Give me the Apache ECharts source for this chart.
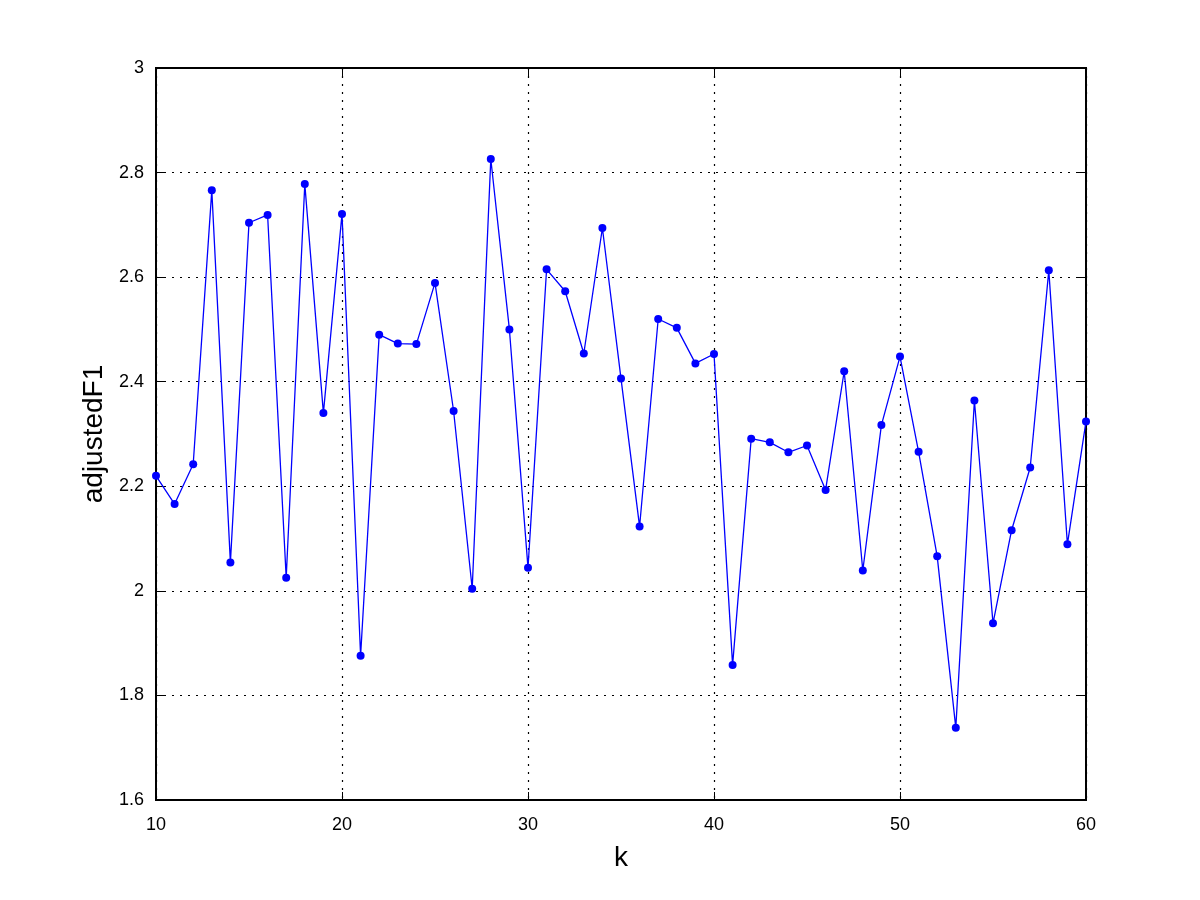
<!DOCTYPE html>
<html>
<head>
<meta charset="utf-8">
<title>adjustedF1 vs k</title>
<script src="https://cdn.jsdelivr.net/npm/echarts@6/dist/echarts.min.js"></script>
<style>
  html, body { margin: 0; padding: 0; background: #fff; }
  #chart { width: 1200px; height: 900px; }
</style>
</head>
<body>
<div id="chart"></div>
<script>
// k values on the x axis
var kValues = [10, 11, 12, 13, 14, 15, 16, 17, 18, 19,
               20, 21, 22, 23, 24, 25, 26, 27, 28, 29,
               30, 31, 32, 33, 34, 35, 36, 37, 38, 39,
               40, 41, 42, 43, 44, 45, 46, 47, 48, 49,
               50, 51, 52, 53, 54, 55, 56, 57, 58, 59, 60];

// adjustedF1
var adjustedF1 = [2.220, 2.166, 2.242, 2.766, 2.054, 2.704, 2.719, 2.025, 2.778, 2.340,
                  2.721, 1.876, 2.490, 2.473, 2.472, 2.589, 2.344, 2.004, 2.826, 2.500,
                  2.044, 2.615, 2.573, 2.454, 2.694, 2.406, 2.123, 2.520, 2.503, 2.435,
                  2.453, 1.858, 2.291, 2.284, 2.265, 2.278, 2.193, 2.420, 2.039, 2.317,
                  2.448, 2.266, 2.066, 1.738, 2.364, 1.938, 2.116, 2.236, 2.613, 2.089, 2.324];

var points = [];
for (var i = 0; i < kValues.length; i++) {
  points.push([kValues[i], adjustedF1[i]]);
}

var font = 'Liberation Sans, Arial, sans-serif';

var chart = echarts.init(document.getElementById('chart'), null, { renderer: 'canvas' });

var option = {
  animation: false,
  backgroundColor: '#ffffff',
  grid: {
    left: 156, right: 114, top: 68, bottom: 100,
    show: true, borderColor: '#000', borderWidth: 2, backgroundColor: 'transparent'
  },
  xAxis: [{
    type: 'value', min: 10, max: 60, interval: 10,
    name: 'k', nameLocation: 'middle', nameGap: 44,
    nameTextStyle: { fontFamily: font, fontSize: 28, color: '#000' },
    axisLine: { show: true, onZero: false, lineStyle: { color: '#000', width: 2 } },
    axisTick: { show: true, inside: true, length: 8, lineStyle: { color: '#000' } },
    axisLabel: { fontFamily: font, fontSize: 18, color: '#000', margin: 16 },
    splitLine: { show: true, lineStyle: { color: '#000', type: [2, 6], width: 1.2 } }
  }, {
    type: 'value', min: 10, max: 60, interval: 10, position: 'top',
    axisLine: { show: true, lineStyle: { color: '#000', width: 2 } },
    axisTick: { show: true, inside: true, length: 8, lineStyle: { color: '#000' } },
    axisLabel: { show: false },
    splitLine: { show: false }
  }],
  yAxis: [{
    type: 'value', min: 1.6, max: 3, interval: 0.2,
    name: 'adjustedF1', nameLocation: 'middle', nameGap: 44, nameRotate: 90,
    nameTextStyle: { fontFamily: font, fontSize: 28, color: '#000' },
    axisLine: { show: true, onZero: false, lineStyle: { color: '#000', width: 2 } },
    axisTick: { show: true, inside: true, length: 8, lineStyle: { color: '#000' } },
    axisLabel: { fontFamily: font, fontSize: 18, color: '#000', margin: 12 },
    splitLine: { show: true, lineStyle: { color: '#000', type: [2, 6], width: 1.2 } }
  }, {
    type: 'value', min: 1.6, max: 3, interval: 0.2, position: 'right',
    axisLine: { show: true, lineStyle: { color: '#000', width: 2 } },
    axisTick: { show: true, inside: true, length: 8, lineStyle: { color: '#000' } },
    axisLabel: { show: false },
    splitLine: { show: false }
  }],
  series: [{
    type: 'line',
    data: points,
    symbol: 'circle',
    symbolSize: 8,
    lineStyle: { color: '#0000ff', width: 1.3 },
    itemStyle: { color: '#0000ff' },
    z: 5
  }]
};

chart.setOption(option);
</script>
</body>
</html>
